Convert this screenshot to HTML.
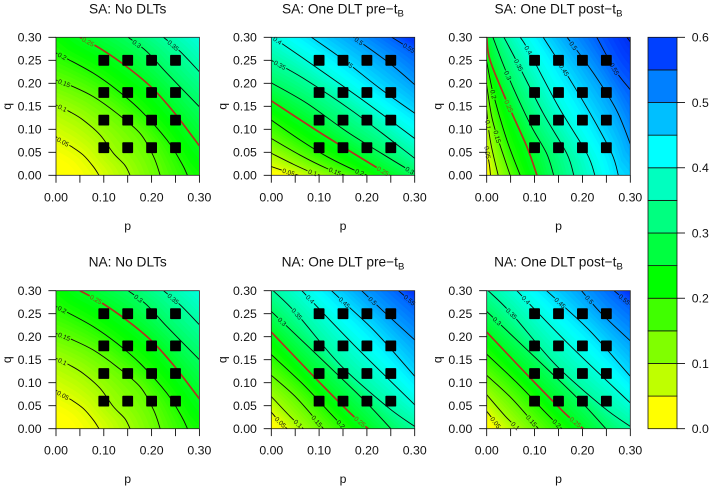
<!DOCTYPE html>
<html lang="en">
<head>
<meta charset="utf-8">
<title>Contour panels of DLT probability by p and q</title>
<style>
html,body{margin:0;padding:0;background:#fff;width:709px;height:488px;overflow:hidden}
svg{display:block;filter:blur(0.3px);font-family:"Liberation Sans",Arial,sans-serif}
</style>
</head>
<body>
<svg id="chart" xmlns="http://www.w3.org/2000/svg" width="709" height="488" viewBox="0 0 709 488"></svg>
<script>
// ---------- data ----------
const legendBreaks = [0,0.05,0.10,0.15,0.20,0.25,0.30,0.35,0.40,0.45,0.50,0.55,0.60];
const legendTicks = [0,0.1,0.2,0.3,0.4,0.5,0.6];
const axisTicks = [0,0.05,0.10,0.15,0.20,0.25,0.30];
const xLabelTicks = [0,0.10,0.20,0.30];
const doseP = [0.10,0.15,0.20,0.25];
const doseQ = [0.06,0.12,0.18,0.25];

const contoursSaNone = [
 [0.05,[[0,.084],[.014,.073],[.033,.062],[.057,.044],[.078,.019],[.09,0]]],
 [0.10,[[0,.153],[.029,.138],[.057,.12],[.092,.088],[.12,.048],[.144,.022],[.155,0]]],
 [0.15,[[0,.207],[.033,.194],[.078,.171],[.127,.135],[.176,.091],[.204,.041],[.218,0]]],
 [0.20,[[0,.266],[.022,.254],[.078,.222],[.127,.186],[.176,.142],[.232,.077],[.263,.026],[.275,0]]],
 [0.25,[[.05,.3],[.092,.276],[.148,.236],[.2,.191],[.246,.138],[.3,.064]]],
 [0.30,[[.151,.3],[.19,.269],[.232,.222],[.3,.149]]],
 [0.35,[[.225,.3],[.26,.269],[.3,.225]]]
];
const labelsSaNone = [[0.05,.015,.073],[0.10,.012,.143],[0.15,.017,.2],[0.20,.013,.259],[0.25,.066,.288],[0.30,.167,.283],[0.35,.244,.281]];

const contoursSaPre = [
 [0.05,[[0,.019],[.02,.012],[.057,0]]],
 [0.10,[[0,.048],[.046,.024],[.08,.008],[.102,0]]],
 [0.15,[[0,.08],[.06,.044],[.116,.015],[.154,0]]],
 [0.20,[[0,.12],[.06,.077],[.116,.041],[.172,.012],[.2,0]]],
 [0.25,[[0,.162],[.088,.102],[.137,.07],[.214,.021],[.248,0]]],
 [0.30,[[0,.201],[.074,.157],[.158,.095],[.241,.041],[.3,.004]]],
 [0.35,[[0,.25],[.067,.211],[.172,.138],[.3,.037]]],
 [0.40,[[.003,.3],[.102,.229],[.2,.157],[.3,.08]]],
 [0.45,[[.084,.3],[.151,.251],[.227,.189],[.3,.135]]],
 [0.50,[[.172,.3],[.248,.243],[.3,.197]]],
 [0.55,[[.252,.3],[.3,.269]]]
];
const labelsSaPre = [[0.05,.036,.006],[0.10,.087,.007],[0.15,.133,.008],[0.20,.186,.009],[0.25,.234,.01],[0.30,.289,.009],[0.35,.017,.238],[0.40,.011,.29],[0.45,.161,.247],[0.50,.182,.29],[0.55,.285,.272]];

const contoursSaPost = [
 [0.05,[[0,.062],[.003,.04],[.006,.02],[.008,0]]],
 [0.10,[[0,.142],[.004,.1],[.01,.062],[.024,0]]],
 [0.15,[[0,.196],[.01,.13],[.022,.084],[.049,0]]],
 [0.20,[[0,.247],[.014,.176],[.042,.077],[.07,0]]],
 [0.25,[[0,.3],[.007,.25],[.042,.16],[.084,.062],[.105,0]]],
 [0.30,[[.013,.3],[.042,.222],[.09,.113],[.125,.048],[.14,0]]],
 [0.35,[[.036,.3],[.063,.247],[.118,.135],[.167,.048],[.182,0]]],
 [0.40,[[.07,.3],[.087,.272],[.15,.149],[.209,.048],[.226,0]]],
 [0.45,[[.118,.3],[.164,.225],[.216,.135],[.261,.048],[.275,0]]],
 [0.50,[[.168,.3],[.223,.222],[.271,.142],[.3,.068]]],
 [0.55,[[.23,.3],[.268,.229],[.3,.186]]],
 [0.60,[[.293,.3],[.3,.29]]]
];
const labelsSaPost = [[0.05,.003,.05],[0.10,.001,.11],[0.15,.022,.084],[0.20,.014,.176],[0.25,.047,.151],[0.30,.046,.218],[0.35,.068,.24],[0.40,.087,.272],[0.45,.162,.229],[0.50,.183,.283],[0.55,.27,.233]];

const contoursNaNone = [
 [0.05,[[0,.084],[.014,.073],[.033,.062],[.057,.044],[.078,.019],[.09,0]]],
 [0.10,[[0,.153],[.029,.138],[.057,.12],[.092,.088],[.12,.048],[.144,.022],[.155,0]]],
 [0.15,[[0,.207],[.033,.194],[.078,.171],[.127,.135],[.176,.091],[.204,.041],[.218,0]]],
 [0.20,[[0,.266],[.022,.254],[.078,.222],[.127,.186],[.176,.142],[.232,.077],[.263,.026],[.275,0]]],
 [0.25,[[.05,.3],[.092,.276],[.148,.236],[.2,.191],[.246,.138],[.3,.065]]],
 [0.30,[[.151,.3],[.19,.269],[.232,.222],[.3,.15]]],
 [0.35,[[.225,.3],[.26,.269],[.3,.226]]]
];
const labelsNaNone = [[0.05,.015,.073],[0.10,.012,.143],[0.15,.017,.2],[0.20,.013,.259],[0.25,.085,.284],[0.30,.171,.281],[0.35,.244,.281]];

const contoursNaPre = [
 [0.05,[[0,.036],[.015,.018],[.033,0]]],
 [0.10,[[0,.07],[.039,.027],[.067,0]]],
 [0.15,[[0,.116],[.053,.067],[.109,0]]],
 [0.20,[[0,.161],[.067,.096],[.123,.034],[.154,0]]],
 [0.25,[[0,.21],[.095,.107],[.172,.027],[.203,0]]],
 [0.30,[[0,.255],[.102,.154],[.193,.063],[.25,0]]],
 [0.35,[[.004,.3],[.053,.25],[.144,.139],[.241,.049],[.3,.005]]],
 [0.40,[[.064,.3],[.172,.183],[.3,.052]]],
 [0.45,[[.126,.3],[.161,.266],[.22,.208],[.3,.114]]],
 [0.50,[[.189,.3],[.24,.25],[.3,.193]]],
 [0.55,[[.266,.3],[.3,.27]]]
];
const labelsNaPre = [[0.05,.017,.012],[0.10,.057,.012],[0.15,.096,.017],[0.20,.146,.01],[0.25,.186,.016],[0.30,.02,.23],[0.35,.053,.249],[0.40,.081,.281],[0.45,.152,.273],[0.50,.214,.28],[0.55,.287,.277]];

const contoursNaPost = [
 [0.05,[[0,.038],[.015,.018],[.028,0]]],
 [0.10,[[0,.074],[.039,.027],[.066,0]]],
 [0.15,[[0,.116],[.053,.065],[.108,0]]],
 [0.20,[[0,.162],[.067,.096],[.123,.035],[.157,0]]],
 [0.25,[[0,.21],[.094,.107],[.17,.027],[.202,0]]],
 [0.30,[[0,.255],[.102,.154],[.193,.063],[.249,0]]],
 [0.35,[[.003,.3],[.052,.25],[.144,.139],[.241,.049],[.3,.005]]],
 [0.40,[[.063,.3],[.172,.183],[.3,.056]]],
 [0.45,[[.125,.3],[.161,.266],[.22,.208],[.3,.114]]],
 [0.50,[[.198,.3],[.24,.25],[.3,.191]]],
 [0.55,[[.266,.3],[.3,.27]]]
];
const labelsNaPost = [[0.05,.017,.012],[0.10,.059,.005],[0.15,.097,.02],[0.20,.145,.01],[0.25,.185,.014],[0.30,.02,.232],[0.35,.052,.25],[0.40,.082,.28],[0.45,.153,.273],[0.50,.214,.28],[0.55,.285,.278]];

// ---------- styling / layout ----------
const bandColors = [[255,255,0],[191,255,0],[128,255,0],[64,255,0],[0,255,0],[0,255,64],[0,255,128],[0,255,191],[0,255,255],[0,191,255],[0,128,255],[0,64,255],[0,32,230]];
const NS = 'http://www.w3.org/2000/svg';
const svg = document.getElementById('chart');
const RANGE = 0.3;
const SUBSTEPS = 6;
const RESAMPLE = 36;

function mk(tag, attrs, parent){
  const el = document.createElementNS(NS, tag);
  for(const k in attrs) el.setAttribute(k, attrs[k]);
  parent.appendChild(el);
  return el;
}
function rgb(c){ return 'rgb('+c.map(v=>Math.round(v)).join(',')+')'; }
function bandColor(i){ return rgb(bandColors[Math.min(i,bandColors.length-1)]); }
// Smooth colour ramp: each legend colour is reached at the centre of its band.
function rampColor(v){
  const t = Math.max(0,Math.min(bandColors.length-1,v/0.05-0.5));
  const i = Math.min(Math.floor(t),bandColors.length-2), f = t-i;
  return rgb(bandColors[i].map((c,k)=>c+(bandColors[i+1][k]-c)*f));
}
function smoothPath(pts){
  let d = 'M'+pts[0][0].toFixed(2)+' '+pts[0][1].toFixed(2);
  for(let i=0;i<pts.length-1;i++){
    const p0=pts[Math.max(i-1,0)],p1=pts[i],p2=pts[i+1],p3=pts[Math.min(i+2,pts.length-1)];
    const c1=[p1[0]+(p2[0]-p0[0])/6,p1[1]+(p2[1]-p0[1])/6];
    const c2=[p2[0]-(p3[0]-p1[0])/6,p2[1]-(p3[1]-p1[1])/6];
    d+=' C'+c1[0].toFixed(2)+' '+c1[1].toFixed(2)+' '+c2[0].toFixed(2)+' '+c2[1].toFixed(2)+' '+p2[0].toFixed(2)+' '+p2[1].toFixed(2);
  }
  return d;
}
// Densify a contour along its spline, then resample evenly by arc length.
function resample(pts){
  if(pts.length===1){ return Array.from({length:RESAMPLE},()=>pts[0].slice()); }
  const dense=[];
  for(let i=0;i<pts.length-1;i++){
    const p0=pts[Math.max(i-1,0)],p1=pts[i],p2=pts[i+1],p3=pts[Math.min(i+2,pts.length-1)];
    const c1=[p1[0]+(p2[0]-p0[0])/6,p1[1]+(p2[1]-p0[1])/6];
    const c2=[p2[0]-(p3[0]-p1[0])/6,p2[1]-(p3[1]-p1[1])/6];
    for(let s=0;s<12;s++){
      const t=s/12,u=1-t;
      dense.push([0,1].map(k=>u*u*u*p1[k]+3*u*u*t*c1[k]+3*u*t*t*c2[k]+t*t*t*p2[k]));
    }
  }
  dense.push(pts[pts.length-1].slice());
  const cum=[0];
  for(let i=1;i<dense.length;i++){
    cum.push(cum[i-1]+Math.hypot(dense[i][0]-dense[i-1][0],dense[i][1]-dense[i-1][1]));
  }
  const total=cum[cum.length-1]||1, out=[];
  let j=0;
  for(let n=0;n<RESAMPLE;n++){
    const target=total*n/(RESAMPLE-1);
    while(j<cum.length-2&&cum[j+1]<target) j++;
    const seg=(cum[j+1]-cum[j])||1, f=Math.min(1,(target-cum[j])/seg);
    out.push([dense[j][0]+(dense[j+1][0]-dense[j][0])*f,dense[j][1]+(dense[j+1][1]-dense[j][1])*f]);
  }
  return out;
}
function startParam(pt){ return pt[0]<=1e-4 ? pt[1] : RANGE+pt[0]; }
function endParam(pt){ return pt[1]<=1e-4 ? pt[0] : RANGE+pt[1]; }
function fromStartParam(s){ return s<=RANGE ? [0,s] : [s-RANGE,RANGE]; }
function fromEndParam(s){ return s<=RANGE ? [s,0] : [RANGE,s-RANGE]; }

function nearestOnLine(pts, x, y){
  let best=null;
  for(let i=0;i<pts.length-1;i++){
    const a=pts[i],b=pts[i+1],dx=b[0]-a[0],dy=b[1]-a[1];
    const t=Math.max(0,Math.min(1,((x-a[0])*dx+(y-a[1])*dy)/(dx*dx+dy*dy||1)));
    const px=a[0]+t*dx,py=a[1]+t*dy,dist=(px-x)*(px-x)+(py-y)*(py-y);
    if(!best||dist<best.dist){
      let ang=Math.atan2(dy,dx)*180/Math.PI;
      if(ang>90)ang-=180;
      if(ang<-90)ang+=180;
      best={x:px,y:py,ang:ang,dist:dist};
    }
  }
  return best;
}

function drawPanel(cfg){
  const sx = p => cfg.left + p/RANGE*(cfg.right-cfg.left);
  const sy = q => cfg.bottom - q/RANGE*(cfg.bottom-cfg.top);
  const g = mk('g',{},svg);
  
  

  const defs = mk('defs',{},g);
  const clip = mk('clipPath',{id:cfg.id+'-clip'},defs);
  mk('rect',{x:cfg.left,y:cfg.top,width:cfg.right-cfg.left,height:cfg.bottom-cfg.top},clip);
  const mask = mk('mask',{id:cfg.id+'-mask',maskUnits:'userSpaceOnUse',x:0,y:0,width:709,height:488},defs);
  mk('rect',{x:0,y:0,width:709,height:488,fill:'#fff'},mask);

  // smooth colour surface: sub-levels blended between neighbouring contours
  const fills = mk('g',{'clip-path':'url(#'+cfg.id+'-clip)'},g);
  
  
  const base = mk('rect',{x:cfg.left,y:cfg.top,width:cfg.right-cfg.left,height:cfg.bottom-cfg.top,fill:bandColor(0)},fills);
  
  

  const ladder = [[0,[[0,0]]]].concat(cfg.contours);
  const lastLevel = cfg.contours[cfg.contours.length-1][0];
  ladder.push([lastLevel+0.05,[[RANGE,RANGE]]]);
  const sampled = ladder.map(c=>resample(c[1]));
  for(let k=0;k<ladder.length-1;k++){
    const a=sampled[k], b=sampled[k+1], la=ladder[k][0], lb=ladder[k+1][0];
    const sa0=startParam(a[0]), sb0=startParam(b[0]);
    const ea0=endParam(a[RESAMPLE-1]), eb0=endParam(b[RESAMPLE-1]);
    for(let s=0;s<SUBSTEPS;s++){
      const f=s/SUBSTEPS;
      const pts=a.map((pt,i)=>[pt[0]+(b[i][0]-pt[0])*f,pt[1]+(b[i][1]-pt[1])*f]);
      pts[0]=fromStartParam(sa0+(sb0-sa0)*f);
      pts[RESAMPLE-1]=fromEndParam(ea0+(eb0-ea0)*f);
      const first=pts[0], last=pts[RESAMPLE-1];
      let d=pts.map((pt,i)=>(i?'L':'M')+sx(pt[0]).toFixed(2)+' '+sy(pt[1]).toFixed(2)).join(' ');
      if(last[1]<=1e-4) d+=' L'+sx(RANGE)+' '+sy(0);
      d+=' L'+sx(RANGE)+' '+sy(RANGE);
      if(first[0]<=1e-4) d+=' L'+sx(0)+' '+sy(RANGE);
      d+=' Z';
      const level=la+(lb-la)*(f+0.5/SUBSTEPS);
      const band = mk('path',{d:d,fill:rampColor(level)},fills);
      
      
    }
  }

  // contour lines
  const lines = mk('g',{'clip-path':'url(#'+cfg.id+'-clip)'},g);
  
  
  const inner = mk('g',{mask:'url(#'+cfg.id+'-mask)'},lines);
  cfg.contours.forEach(function(c){
    const pts = c[1].map(pt=>[sx(pt[0]),sy(pt[1])]);
    const isRed = Math.abs(c[0]-0.25)<0.001;
    const line = mk('path',{d:smoothPath(pts),fill:'none',stroke:isRed?'#b2331f':'#0a0a0a','stroke-width':isRed?1.7:0.9},inner);
    
    
  });

  // contour labels
  cfg.labels.forEach(function(l){
    const c = cfg.contours.find(v=>Math.abs(v[0]-l[0])<0.001);
    if(!c) return;
    const pts = c[1].map(pt=>[sx(pt[0]),sy(pt[1])]);
    const at = nearestOnLine(pts,sx(l[1]),sy(l[2]));
    const txt = String(+l[0].toFixed(2));
    const w = txt.length*3.2+1.5;
    mk('rect',{x:-w/2,y:-3,width:w,height:6,fill:'#000',transform:'translate('+at.x.toFixed(2)+' '+at.y.toFixed(2)+') rotate('+at.ang.toFixed(1)+')'},mask);
    const isRed = Math.abs(l[0]-0.25)<0.001;
    const t = mk('text',{'font-size':6.5,'text-anchor':'middle',fill:isRed?'#8f4a12':'#111',transform:'translate('+at.x.toFixed(2)+' '+at.y.toFixed(2)+') rotate('+at.ang.toFixed(1)+') translate(0 2.3)'},g);
    t.textContent = txt;
    
    
  });

  // design points
  const dots = mk('g',{},g);
  
  
  doseP.forEach(function(p){
    doseQ.forEach(function(q){
      const s = mk('rect',{x:sx(p)-5.4,y:sy(q)-5.4,width:10.8,height:10.8,rx:0.8,fill:'#000'},dots);
      
      
    });
  });

  // frame
  const frame = mk('rect',{x:cfg.left,y:cfg.top,width:cfg.right-cfg.left,height:cfg.bottom-cfg.top,fill:'none',stroke:'#222','stroke-width':0.8},g);
  
  

  // axes
  const xAxis = mk('g',{stroke:'#000','stroke-width':0.85},g);
  
  
  const yAxis = mk('g',{stroke:'#000','stroke-width':0.85},g);
  
  
  axisTicks.forEach(function(v){
    mk('line',{x1:sx(v),x2:sx(v),y1:cfg.bottom,y2:cfg.bottom+7.4},xAxis);
    mk('line',{x1:cfg.left-7.6,x2:cfg.left,y1:sy(v),y2:sy(v)},yAxis);
    const yl = mk('text',{x:cfg.left-14.4,y:sy(v)+4.4,'font-size':12.3,'text-anchor':'end',fill:'#111',stroke:'none'},yAxis);
    yl.textContent = v.toFixed(2);
    
    
  });
  xLabelTicks.forEach(function(v){
    const xl = mk('text',{x:sx(v),y:cfg.bottom+26,'font-size':12.3,'text-anchor':'middle',fill:'#111',stroke:'none'},xAxis);
    xl.textContent = v.toFixed(2);
    
    
  });

  const px = mk('text',{x:(cfg.left+cfg.right)/2,y:cfg.bottom+54.5,'font-size':12.3,'text-anchor':'middle',fill:'#111'},g);
  px.textContent = 'p';
  
  
  const qy = (cfg.top+cfg.bottom)/2;
  const qx = cfg.left-45;
  const qt = mk('text',{x:qx,y:qy,'font-size':12.3,'text-anchor':'middle',fill:'#111',transform:'rotate(-90 '+qx+' '+qy+')'},g);
  qt.textContent = 'q';
  
  

  const title = mk('text',{x:(cfg.left+cfg.right)/2,y:cfg.top-24,'font-size':13.7,'text-anchor':'middle',fill:'#111'},g);
  
  
  title.appendChild(document.createTextNode(cfg.title));
  if(cfg.sub){
    const sub = mk('tspan',{dy:3,'font-size':9.6},title);
    sub.textContent = cfg.sub;
  }
}

const columnLeft = [56,271.3,486.7];
const columnRight = [199.4,414.7,630.3];
const rowTop = [37.3,290.7];
const rowBottom = [175.3,428.7];

drawPanel({id:'sa-no-dlts',title:'SA: No DLTs',sub:'',left:columnLeft[0],right:columnRight[0],top:rowTop[0],bottom:rowBottom[0],contours:contoursSaNone,labels:labelsSaNone});
drawPanel({id:'sa-pre',title:'SA: One DLT pre\u2212t',sub:'B',left:columnLeft[1],right:columnRight[1],top:rowTop[0],bottom:rowBottom[0],contours:contoursSaPre,labels:labelsSaPre});
drawPanel({id:'sa-post',title:'SA: One DLT post\u2212t',sub:'B',left:columnLeft[2],right:columnRight[2],top:rowTop[0],bottom:rowBottom[0],contours:contoursSaPost,labels:labelsSaPost});
drawPanel({id:'na-no-dlts',title:'NA: No DLTs',sub:'',left:columnLeft[0],right:columnRight[0],top:rowTop[1],bottom:rowBottom[1],contours:contoursNaNone,labels:labelsNaNone});
drawPanel({id:'na-pre',title:'NA: One DLT pre\u2212t',sub:'B',left:columnLeft[1],right:columnRight[1],top:rowTop[1],bottom:rowBottom[1],contours:contoursNaPre,labels:labelsNaPre});
drawPanel({id:'na-post',title:'NA: One DLT post\u2212t',sub:'B',left:columnLeft[2],right:columnRight[2],top:rowTop[1],bottom:rowBottom[1],contours:contoursNaPost,labels:labelsNaPost});

// ---------- colour legend ----------
(function(){
  const L=648, R=677, T=37.3, B=428.7;
  const sy = v => B - v/0.6*(B-T);
  const g = mk('g',{},svg);
  
  
  for(let i=0;i<legendBreaks.length-1;i++){
    const r = mk('rect',{x:L,y:sy(legendBreaks[i+1]),width:R-L,height:sy(legendBreaks[i])-sy(legendBreaks[i+1]),fill:bandColor(i),stroke:'#111','stroke-width':0.8},g);
    
    
  }
  legendTicks.forEach(function(v){
    const tick = mk('line',{x1:R,x2:R+8,y1:sy(v),y2:sy(v),stroke:'#000','stroke-width':0.85},g);
    
    
    const t = mk('text',{x:691.7,y:sy(v)+4.4,'font-size':12.3,fill:'#111'},g);
    t.textContent = v.toFixed(1);
    
    
  });
})();
</script>
</body>
</html>
